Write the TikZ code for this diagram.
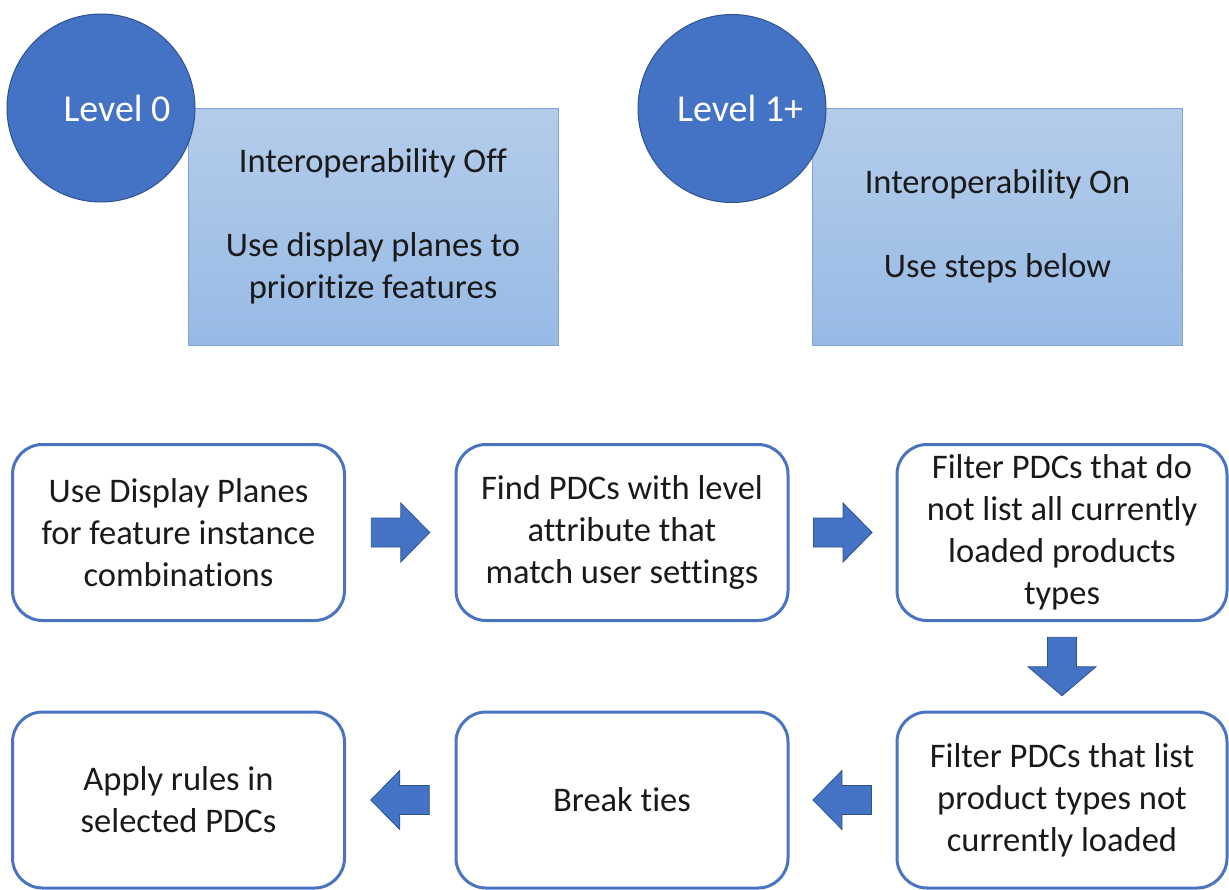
\documentclass[tikz,border=0pt]{standalone}
\usepackage{fontspec}
\setmainfont{Carlito}[Ligatures=CommonOff]
\usetikzlibrary{calc}
\definecolor{circblue}{HTML}{4472C4}
\definecolor{circedge}{HTML}{2F528F}
\definecolor{boxtop}{HTML}{B4CCEA}
\definecolor{boxbot}{HTML}{97BAE5}
\definecolor{boxedge}{HTML}{7DA3D8}
\definecolor{rbedge}{HTML}{4A74C2}
\definecolor{txt}{HTML}{1A1A1A}
\newcommand{\blockarrow}[3]{%
  \draw[blockarr, shift={(#1)}, rotate=#2]
    (-29,-14.5) -- (0.5,-14.5) -- (0.5,-#3) -- (29.5,0) -- (0.5,#3) -- (0.5,14.5) -- (-29,14.5) -- cycle;}
\begin{document}
\begin{tikzpicture}[x=1pt,y=-1pt,
  levelcirc/.style={circle, fill=circblue, draw=circedge, line width=1pt, minimum size=188pt, inner sep=0pt},
  leveltxt/.style={text=white, inner sep=0pt, font=\fontsize{38}{46}\selectfont},
  infobox/.style={rectangle, top color=boxtop, bottom color=boxbot, draw=boxedge, line width=1pt,
    minimum width=370pt, minimum height=237pt, inner sep=0pt, align=center, text=txt,
    font=\fontsize{34.5}{42}\selectfont},
  stepbox/.style={rectangle, rounded corners=30pt, fill=white, draw=rbedge, line width=3pt,
    minimum width=332pt, minimum height=176pt, inner sep=0pt, align=center, text=txt,
    font=\fontsize{34.5}{42}\selectfont},
  blockarr/.style={fill=circblue, draw=circedge, line width=0.8pt, line join=miter}]

\useasboundingbox (0,0) rectangle (1229,889);

% top section
\node[infobox] (b0) at (373,226.5) {Interoperability Off\\[42pt]Use display planes to\\prioritize features};
\node[levelcirc] (c0) at (101,108) {};
\node[leveltxt] (t0) at ($(c0.center)+(16,0)$) {Level 0};

\node[infobox] (b1) at (997.5,226.5) {Interoperability On\\[42pt]Use steps below};
\node[levelcirc] (c1) at (732,108.5) {};
\node[leveltxt] (t1) at ($(c1.center)+(8,0)$) {Level 1+};

% flow boxes
\node[stepbox] (A) at (178.5,532.5) {Use Display Planes\\for feature instance\\combinations};
\node[stepbox] (B) at (622,532.5) {Find PDCs with level\\attribute that\\match user settings};
\node[stepbox, minimum width=330pt] (C) at (1062,532.5) {Filter PDCs that do\\not list all currently\\loaded products\\types};
\node[stepbox] (D) at (178.5,800) {Apply rules in\\selected PDCs};
\node[stepbox] (E) at (622,800) {Break ties};
\node[stepbox, minimum width=330pt] (F) at (1062,800) {Filter PDCs that list\\product types not\\currently loaded};

% block arrows
\coordinate (a1) at ($(A.east)!0.5!(B.west)$);
\coordinate (a2) at ($(B.east)!0.5!(C.west)$);
\coordinate (a3) at ($(C.south)!0.5!(F.north)$);
\coordinate (a4) at ($(F.west)!0.5!(E.east)$);
\coordinate (a5) at ($(E.west)!0.5!(D.east)$);
\blockarrow{a1}{0}{29.5}
\blockarrow{a2}{0}{29.5}
\blockarrow{a3}{-90}{34}
\blockarrow{a4}{180}{29.5}
\blockarrow{a5}{180}{29.5}
\end{tikzpicture}
\end{document}
